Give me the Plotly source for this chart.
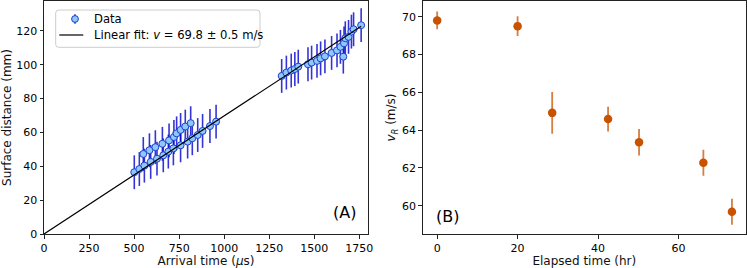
import plotly.graph_objects as go
from plotly.subplots import make_subplots

# Panel A data: arrival time (us) vs surface distance (mm)
arrival_time = [501, 529, 557, 592, 627, 662, 690, 718, 758, 797, 823, 853, 880, 921, 955,
                551, 585, 618, 657, 694, 721, 736, 758, 784, 814,
                1319, 1345, 1372, 1392, 1411, 1465, 1485, 1515, 1535, 1559, 1596, 1626,
                1645, 1661, 1665, 1672, 1690, 1706, 1718, 1760]
surface_distance = [36.5, 38.4, 40.4, 42.6, 44.5, 46.5, 48.7, 50.6, 52.4, 54.6, 56.6, 58.5, 60.9, 63.8, 66.4,
                    47.3, 49.5, 51.3, 53.3, 55.3, 57.3, 59.5, 61.5, 63.5, 65.5,
                    93.4, 95.4, 96.6, 97.5, 98.9, 100.3, 101.3, 102.3, 103.8, 105.0, 107.0, 108.5,
                    110.6, 104.8, 112.7, 115.7, 116.5, 119.6, 121.0, 123.4]
distance_err = [10, 10, 10, 10, 10, 10, 10, 10, 10, 10, 10, 10, 10, 10, 10,
                10, 10, 10, 10, 10, 10, 10, 10, 10, 10,
                10, 10, 10, 10, 10, 10, 10, 10, 10, 10, 10, 10,
                10, 10, 10, 10, 10, 10, 10, 10]
fit_x = [0, 1760]
fit_speed = 69.8  # m/s -> mm/us = /1000

# Panel B data
elapsed_time = [0, 20, 28.6, 42.5, 50.2, 66.2, 73.3]
v_r = [69.8, 69.5, 64.91, 64.58, 63.36, 62.27, 59.68]
v_r_err = [0.47, 0.52, 1.1, 0.65, 0.7, 0.69, 0.69]

legend_labels = ["Data", "Linear fit: <i>v</i> = 69.8 ± 0.5 m/s"]

W, H = 747, 268
ml, mr, mt, mb = 44, 1, 1, 34
pw = W - ml - mr
ph = H - mt - mb


def px(x):
    return (x - ml) / pw


def py(y):
    return 1 - (y - mt) / ph


DATA_FILL = "#8ec8f8"
DATA_EDGE = "#1f3fd0"
DATA_ERR = "rgba(0,0,205,0.8)"
ORANGE = "#c85200"

fig = make_subplots(rows=1, cols=2)

fig.add_trace(go.Scatter(
    x=arrival_time, y=surface_distance, mode="markers", name=legend_labels[0],
    marker=dict(color=DATA_FILL, size=7, line=dict(color=DATA_EDGE, width=1)),
    error_y=dict(type="data", array=distance_err, color=DATA_ERR,
                 thickness=1.6, width=0),
    showlegend=False,
), row=1, col=1)

fit_y = [x * fit_speed / 1000 for x in fit_x]
fig.add_trace(go.Scatter(
    x=fit_x, y=fit_y, mode="lines", name=legend_labels[1],
    line=dict(color="black", width=1.2), showlegend=False,
), row=1, col=1)

fig.add_trace(go.Scatter(
    x=elapsed_time, y=v_r, mode="markers", showlegend=False,
    marker=dict(color=ORANGE, size=8.5),
    error_y=dict(type="data", array=v_r_err, color="rgba(200,82,0,0.75)",
                 thickness=1.8, width=0),
), row=1, col=2)

tick_font = dict(family="DejaVu Sans", size=11, color="black")
title_font = dict(family="DejaVu Sans", size=12, color="#111")
axis_common = dict(showgrid=False, zeroline=False, showline=True, mirror=True,
                   linecolor="#222", linewidth=1, ticks="outside", ticklen=3.5,
                   tickcolor="#222", tickfont=tick_font, automargin=False)

left_dom = [0, (368 - ml) / pw]
right_dom = [(422.7 - ml) / pw, 1]

fig.update_xaxes(axis_common, row=1, col=1, domain=left_dom, range=[0, 1798],
                 tickvals=[0, 250, 500, 750, 1000, 1250, 1500, 1750],
                 title=dict(text="Arrival time (<i>μ</i>s)", font=title_font, standoff=1))
fig.update_yaxes(axis_common, row=1, col=1, range=[0, 137.7],
                 tickvals=[0, 20, 40, 60, 80, 100, 120],
                 title=dict(text="Surface distance (mm)", font=title_font, standoff=3))
fig.update_xaxes(axis_common, row=1, col=2, domain=right_dom, range=[-3.6, 76.8],
                 tickvals=[0, 20, 40, 60],
                 title=dict(text="Elapsed time (hr)", font=title_font, standoff=1))
fig.update_yaxes(axis_common, row=1, col=2, range=[58.5, 70.83],
                 tickvals=[60, 62, 64, 66, 68, 70],
                 title=dict(text="<i>v</i><sub><i>R</i></sub> (m/s)", font=title_font, standoff=3))

# Panel labels
fig.add_annotation(text="(A)", xref="paper", yref="paper",
                   x=px(358), y=py(212), xanchor="right", yanchor="middle",
                   showarrow=False, font=dict(family="DejaVu Sans", size=16, color="black"))
fig.add_annotation(text="(B)", xref="paper", yref="paper",
                   x=px(434), y=py(216), xanchor="left", yanchor="middle",
                   showarrow=False, font=dict(family="DejaVu Sans", size=16, color="black"))

# Compact legend box (matplotlib style)
bx0, bx1, by0, by1, r = 55.7, 260, 10, 47.3, 3
rx, ry = r / pw, r / ph
X0, X1, Y0, Y1 = px(bx0), px(bx1), py(by1), py(by0)
path = (f"M {X0+rx},{Y0} L {X1-rx},{Y0} Q {X1},{Y0} {X1},{Y0+ry} "
        f"L {X1},{Y1-ry} Q {X1},{Y1} {X1-rx},{Y1} L {X0+rx},{Y1} "
        f"Q {X0},{Y1} {X0},{Y1-ry} L {X0},{Y0+ry} Q {X0},{Y0} {X0+rx},{Y0} Z")
fig.add_shape(type="path", path=path, xref="paper", yref="paper",
              fillcolor="rgba(255,255,255,0.85)", line=dict(color="#cccccc", width=1))
# Data glyph: error bar + marker
fig.add_shape(type="line", xref="paper", yref="paper",
              x0=px(75), x1=px(75), y0=py(14.3), y1=py(23.7),
              line=dict(color=DATA_ERR, width=1.6))
fig.add_shape(type="circle", xref="paper", yref="paper",
              x0=px(71.6), x1=px(78.4), y0=py(22.4), y1=py(15.6),
              fillcolor=DATA_FILL, line=dict(color=DATA_EDGE, width=1))
# Fit glyph
fig.add_shape(type="line", xref="paper", yref="paper",
              x0=px(59.3), x1=px(83.3), y0=py(35), y1=py(35),
              line=dict(color="black", width=1.2))
for label, yy in zip(legend_labels, [19, 35]):
    fig.add_annotation(text=label, xref="paper", yref="paper", x=px(92), y=py(yy),
                       xanchor="left", yanchor="middle", showarrow=False,
                       font=dict(family="DejaVu Sans", size=11.6, color="black"))

fig.update_layout(
    width=W, height=H, margin=dict(l=ml, r=mr, t=mt, b=mb),
    plot_bgcolor="white", paper_bgcolor="white", font=tick_font,
    showlegend=False,
)

fig.write_html("out.html", config={"displayModeBar": False},
               post_script="document.body.style.margin='0';document.body.style.padding='0';")
